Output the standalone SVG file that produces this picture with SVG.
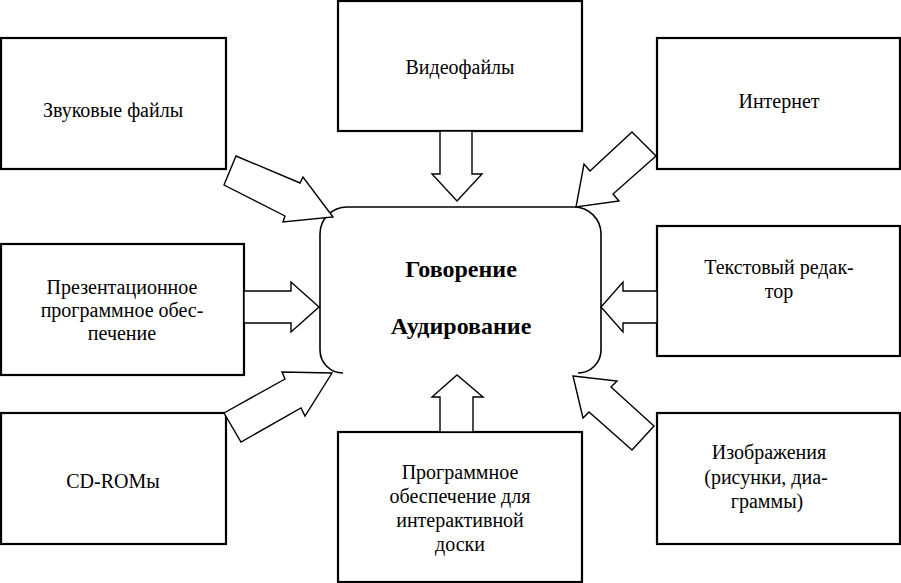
<svg xmlns="http://www.w3.org/2000/svg" width="901" height="583" viewBox="0 0 901 583">
<style>
.box{fill:#fff;stroke:#000;stroke-width:2.2}
.arr{fill:#fff;stroke:#000;stroke-width:1.4;stroke-linejoin:miter}
text{font-family:'Liberation Serif','Times New Roman',serif;fill:#000;text-anchor:middle}
.t{font-size:20px}
.b{font-size:24px;font-weight:bold}
</style>
<rect width="901" height="583" fill="#fff"/>
<g id="center">
<path d="M343 373 A23 23 0 0 1 320 350 V234 A27 27 0 0 1 347 207 H574 A27 27 0 0 1 601 234 V350 A23 23 0 0 1 578 373" fill="#fff" stroke="#000" stroke-width="1.6"/>
<text class="b" x="461" y="277">Говорение</text>
<text class="b" x="461" y="334">Аудирование</text>
</g>
<g id="sound">
<rect class="box" x="1" y="38" width="225" height="131"/>
<text class="t" x="113" y="117">Звуковые файлы</text>
</g>
<g id="video">
<rect class="box" x="338" y="1" width="244" height="130"/>
<text class="t" x="460" y="74">Видеофайлы</text>
</g>
<g id="internet">
<rect class="box" x="657" y="38" width="243" height="131"/>
<text class="t" x="779" y="108">Интернет</text>
</g>
<g id="presentation">
<rect class="box" x="1" y="244" width="243" height="131"/>
<text class="t" x="122" y="294">Презентационное</text>
<text class="t" x="122" y="317">программное обес-</text>
<text class="t" x="122" y="340">печение</text>
</g>
<g id="texteditor">
<rect class="box" x="657" y="226" width="243" height="130"/>
<text class="t" x="779" y="274">Текстовый редак-</text>
<text class="t" x="779" y="298">тор</text>
</g>
<g id="cdrom">
<rect class="box" x="1" y="413" width="225" height="131"/>
<text class="t" x="113" y="488">CD-ROMы</text>
</g>
<g id="whiteboard">
<rect class="box" x="338" y="432" width="244" height="150"/>
<text class="t" x="460" y="479">Программное</text>
<text class="t" x="460" y="503">обеспечение для</text>
<text class="t" x="460" y="527">интерактивной</text>
<text class="t" x="460" y="551">доски</text>
</g>
<g id="images">
<rect class="box" x="657" y="413" width="243" height="131"/>
<text class="t" x="769" y="459">Изображения</text>
<text class="t" x="766" y="484">(рисунки, диа-</text>
<text class="t" x="767" y="508">граммы)</text>
</g>
<g id="connectors">
<polygon class="arr" points="440,131 440,174 432,174 457,201 482,174 472,174 472,131"/>
<polygon class="arr" points="440,432 440,397 432,397 457,375 483,397 473,397 473,432"/>
<polygon class="arr" points="244,291 291,291 291,282 319,307 291,332 291,323 244,323"/>
<polygon class="arr" points="657,291 623,291 623,282 601,307 623,332 623,323 657,323"/>
<polygon class="arr" points="236,156 300,183 303,177 333,217 283,222 285,216 224,185"/>
<polygon class="arr" points="632,132 656,156 613,194 619,201 576,207 584,164 590,171"/>
<polygon class="arr" points="224,413 285,379 282,372 332,373 305,416 301,408 241,442"/>
<polygon class="arr" points="573,376 617,381 611,387 654,426 632,450 589,412 583,418"/>
</g>
</svg>
